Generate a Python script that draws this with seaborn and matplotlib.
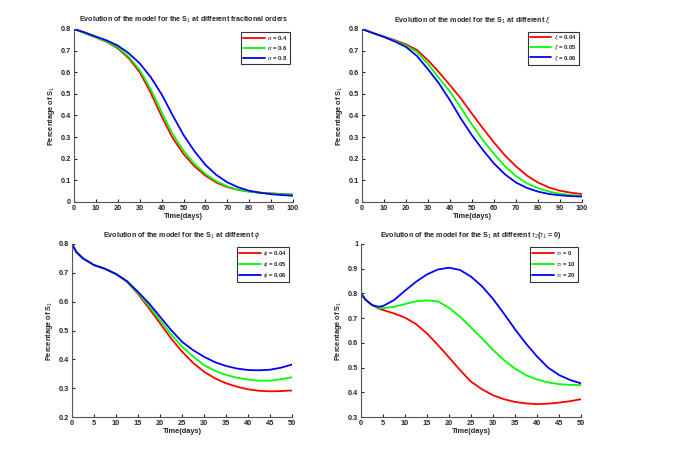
import numpy as np
import pandas as pd
import matplotlib
matplotlib.use("Agg")
import matplotlib.pyplot as plt
import seaborn as sns

sns.set_style("ticks")
plt.rcParams['font.family'] = ['Liberation Sans', 'DejaVu Sans']
plt.rcParams['mathtext.fontset'] = 'custom'
plt.rcParams['mathtext.rm'] = 'Liberation Sans'
plt.rcParams['mathtext.it'] = 'Liberation Sans:italic'
plt.rcParams['mathtext.bf'] = 'Liberation Sans:bold'

# ---- Panel 1: fractional orders ----
t1 = [0, 5, 10, 15, 20, 25, 30, 35, 40, 45, 50, 55, 60, 65, 70, 75, 80, 85, 90, 95, 100]
a04 = [0.800, 0.780, 0.761, 0.740, 0.711, 0.665, 0.600, 0.506, 0.396, 0.297, 0.222, 0.165, 0.122, 0.090, 0.069, 0.056, 0.048, 0.043, 0.040, 0.037, 0.035]
a06 = [0.800, 0.781, 0.762, 0.742, 0.715, 0.672, 0.610, 0.523, 0.415, 0.315, 0.237, 0.176, 0.130, 0.096, 0.072, 0.057, 0.048, 0.043, 0.039, 0.036, 0.034]
a08 = [0.800, 0.784, 0.765, 0.747, 0.723, 0.688, 0.641, 0.578, 0.498, 0.402, 0.310, 0.235, 0.172, 0.125, 0.091, 0.068, 0.052, 0.043, 0.036, 0.032, 0.029]

# ---- Panel 2: xi ----
t2 = [0, 5, 10, 15, 20, 25, 30, 35, 40, 45, 50, 55, 60, 65, 70, 75, 80, 85, 90, 95, 100]
xi004 = [0.800, 0.782, 0.765, 0.748, 0.729, 0.703, 0.655, 0.600, 0.540, 0.478, 0.408, 0.340, 0.275, 0.215, 0.165, 0.122, 0.090, 0.067, 0.052, 0.043, 0.037]
xi005 = [0.800, 0.782, 0.764, 0.745, 0.724, 0.693, 0.638, 0.573, 0.510, 0.435, 0.358, 0.285, 0.222, 0.165, 0.120, 0.086, 0.064, 0.048, 0.038, 0.032, 0.029]
xi006 = [0.800, 0.781, 0.763, 0.742, 0.717, 0.675, 0.614, 0.548, 0.470, 0.385, 0.308, 0.240, 0.178, 0.128, 0.090, 0.065, 0.048, 0.037, 0.031, 0.027, 0.025]

# ---- Panel 3: phi ----
t3 = [0, 1, 2.5, 5, 7.5, 10, 12.5, 15, 17.5, 20, 22.5, 25, 27.5, 30, 32.5, 35, 37.5, 40, 42.5, 45, 47.5, 50]
phi004 = [0.800, 0.772, 0.750, 0.727, 0.714, 0.696, 0.669, 0.627, 0.577, 0.525, 0.473, 0.427, 0.388, 0.357, 0.334, 0.317, 0.305, 0.296, 0.291, 0.289, 0.290, 0.292]
phi005 = [0.800, 0.772, 0.750, 0.727, 0.714, 0.696, 0.670, 0.630, 0.585, 0.536, 0.487, 0.444, 0.410, 0.380, 0.360, 0.346, 0.336, 0.330, 0.326, 0.326, 0.331, 0.338]
phi006 = [0.800, 0.772, 0.750, 0.727, 0.714, 0.696, 0.671, 0.634, 0.594, 0.548, 0.502, 0.461, 0.432, 0.409, 0.390, 0.377, 0.368, 0.363, 0.362, 0.364, 0.371, 0.382]

# ---- Panel 4: tau2 ----
t4 = [0, 1, 2.5, 4, 5, 7.5, 10, 12.5, 15, 17.5, 20, 22.5, 25, 27.5, 30, 32.5, 35, 37.5, 40, 42.5, 45, 47.5, 50]
tau0 = [0.800, 0.775, 0.753, 0.739, 0.733, 0.719, 0.702, 0.676, 0.638, 0.591, 0.541, 0.490, 0.443, 0.412, 0.388, 0.372, 0.361, 0.355, 0.352, 0.354, 0.358, 0.364, 0.372]
tau10 = [0.800, 0.775, 0.753, 0.741, 0.740, 0.746, 0.757, 0.768, 0.772, 0.768, 0.742, 0.706, 0.662, 0.618, 0.571, 0.530, 0.496, 0.469, 0.452, 0.440, 0.433, 0.430, 0.429]
tau20 = [0.800, 0.775, 0.753, 0.746, 0.749, 0.773, 0.811, 0.847, 0.877, 0.897, 0.904, 0.895, 0.868, 0.829, 0.778, 0.718, 0.655, 0.597, 0.545, 0.500, 0.470, 0.450, 0.436]

colors = [(1, 0, 0), (0, 1, 0), (0, 0, 1)]

fig = plt.figure(figsize=(6.76, 4.57), dpi=100)
W, H = 676, 457

def make_ax(x0, x1, ytop, ybot):
    return fig.add_axes([x0 / W, 1 - ybot / H, (x1 - x0) / W, (ybot - ytop) / H])

ax1 = make_ax(74, 293, 29, 202)
ax2 = make_ax(362, 582, 29, 202)
ax3 = make_ax(72, 292, 244, 417)
ax4 = make_ax(361, 581, 244, 417)

panels = [
    (ax1, t1, [a04, a06, a08], [r'$\alpha$ = 0.4', r'$\alpha$ = 0.6', r'$\alpha$ = 0.8'],
     'Evolution of the model for the S$_1$ at different fractional orders',
     (0, 100), np.arange(0, 101, 10), (0, 0.8), np.arange(0, 0.81, 0.1)),
    (ax2, t2, [xi004, xi005, xi006], [r'$\xi$ = 0.04', r'$\xi$ = 0.05', r'$\xi$ = 0.06'],
     r'Evolution of the model for the S$_1$ at different $\xi$',
     (0, 100), np.arange(0, 101, 10), (0, 0.8), np.arange(0, 0.81, 0.1)),
    (ax3, t3, [phi004, phi005, phi006], [r'$\phi$ = 0.04', r'$\phi$ = 0.05', r'$\phi$ = 0.06'],
     r'Evolution of the model for the S$_1$ at different $\phi$',
     (0, 50), np.arange(0, 51, 5), (0.2, 0.8), np.arange(0.2, 0.81, 0.1)),
    (ax4, t4, [tau0, tau10, tau20], [r'$\tau_2$ = 0', r'$\tau_2$ = 10', r'$\tau_2$ = 20'],
     r'Evolution of the model for the S$_1$ at different $\tau_2$($\tau_1$ = 0)',
     (0, 50), np.arange(0, 51, 5), (0.3, 1.0), np.arange(0.3, 1.01, 0.1)),
]

for ax, t, series, labels, title, xl, xt, yl, yt in panels:
    for s, lab, c in zip(series, labels, colors):
        sns.lineplot(x=t, y=s, color=c, label=lab, ax=ax, linewidth=1.3)
    ax.set_xlim(*xl)
    ax.set_ylim(*yl)
    ax.set_xticks(xt)
    ax.set_yticks(yt)
    ax.set_xticklabels([f'{v:g}' for v in xt])
    ax.set_yticklabels([f'{v:g}' for v in np.round(yt, 1)])
    ax.tick_params(direction='in', length=2.5, width=0.8, labelsize=5.3, pad=2)
    for lbl in ax.get_xticklabels() + ax.get_yticklabels():
        lbl.set_fontweight('bold')
    ax.set_title(title, fontsize=5.1, fontweight='bold', pad=5)
    ax.set_xlabel('Time(days)', fontsize=5.3, fontweight='bold', labelpad=1)
    ax.set_ylabel('Percentage of S$_1$', fontsize=5.3, fontweight='bold', labelpad=3)
    for sp in ['top', 'right']:
        ax.spines[sp].set_visible(False)
    for sp in ['left', 'bottom']:
        ax.spines[sp].set_linewidth(0.8)
        ax.spines[sp].set_color('#555555')
    leg = ax.legend(loc='upper right', fontsize=4.3, frameon=True, fancybox=False,
                    edgecolor='black', handlelength=3.6, handletextpad=0.4,
                    borderpad=0.35, labelspacing=0.35, borderaxespad=0.5)
    leg.get_frame().set_linewidth(0.8)
    for txt in leg.get_texts():
        txt.set_fontweight('bold')

fig.savefig('out.png', dpi=100)
